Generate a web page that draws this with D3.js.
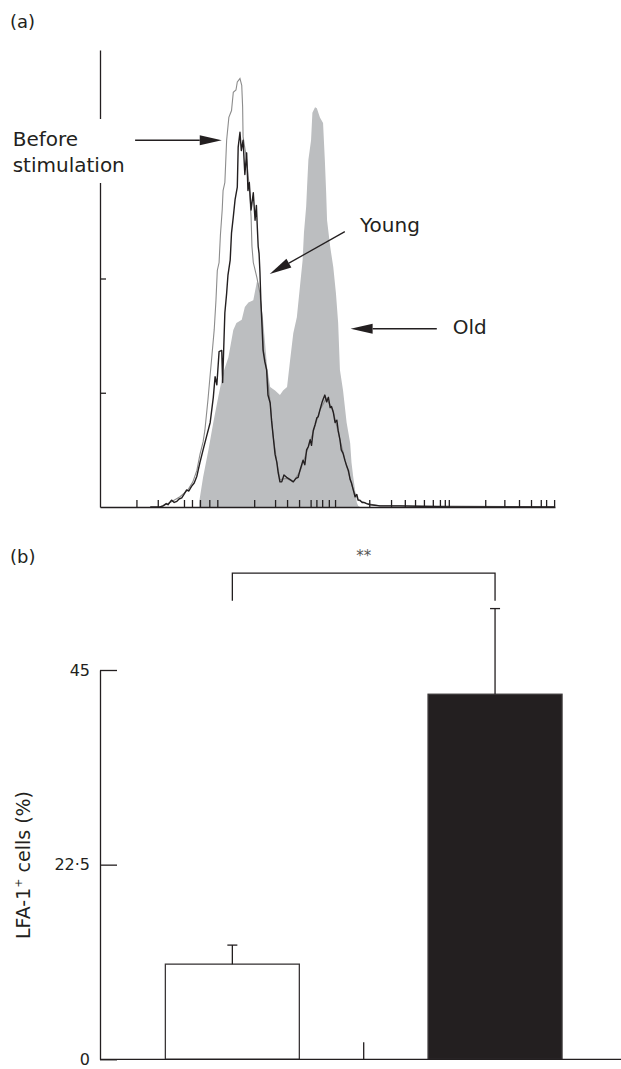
<!DOCTYPE html>
<html>
<head>
<meta charset="utf-8">
<style>
  body { margin: 0; background: #fff; }
  text { font-family: "DejaVu Sans", sans-serif; fill: #231f20; }
</style>
</head>
<body>
<script src="https://cdn.jsdelivr.net/npm/d3@7"></script>
<script>
// ---- panel (a): flow cytometry histograms (channel, count) ----
var xTicksA = [82, 130, 189, 207, 225, 246, 264, 347, 394, 421, 448, 474, 487, 500, 515, 529,
               606, 655, 686, 709, 729, 749, 765, 776, 785, 867, 910, 943, 970, 992, 1004, 1022];
var yTicksA = [100, 200, 300];

var beforeCurve = [[135,0],[158,4],[180,9],[198,15],[209,22],[218,32],[225,46],[232,57],[236,67],
  [243,94],[248,116],[252,133],[257,155],[261,181],[264,207],[268,214],[271,238],[275,260],[277,277],
  [281,284],[285,321],[290,341],[296,347],[300,363],[306,365],[309,372],[315,375],[319,369],[321,350],
  [322,324],[330,304],[336,280],[340,254],[342,228],[345,214],[353,201],[360,187],[365,164],[368,137],
  [375,120],[383,91],[390,61],[398,39],[405,24],[420,25],[435,22],[450,31],[465,48],[480,66],[495,85],
  [509,95],[524,85],[540,59],[555,36],[570,15],[581,6],[600,3],[630,1],[675,1],[1023,0]];

var youngCurve = [[113,0],[135,0],[142,1],[149,3],[153,2],[161,6],[167,4],[173,5],[178,7],[184,8],
  [189,11],[195,15],[200,14],[206,18],[212,21],[218,27],[225,39],[232,50],[240,62],[248,74],[255,96],
  [259,114],[263,107],[268,136],[274,137],[276,109],[281,170],[285,187],[288,203],[293,216],[296,240],
  [300,254],[304,269],[309,280],[311,315],[315,328],[318,312],[322,321],[326,291],[330,310],[333,277],
  [336,284],[340,260],[345,275],[349,251],[352,264],[354,245],[356,228],[358,222],[360,205],[362,181],
  [365,155],[367,137],[371,127],[375,120],[378,98],[383,91],[386,76],[390,61],[394,46],[398,39],
  [401,30],[405,22],[409,22],[414,28],[420,26],[428,24],[435,22],[441,25],[446,26],[450,32],[457,41],
  [461,37],[465,50],[469,53],[473,59],[476,54],[480,67],[484,72],[488,78],[491,79],[495,85],[500,92],
  [502,94],[506,98],[510,92],[514,96],[518,87],[521,88],[525,83],[529,74],[533,76],[536,67],[540,59],
  [543,50],[547,47],[551,41],[555,36],[559,32],[563,24],[566,21],[570,15],[574,9],[578,11],[581,6],
  [585,6],[590,4],[594,4],[600,3],[608,2],[630,1],[675,1],[788,0],[1023,0]];

var oldCurve = [[223,0],[223,4],[232,26],[244,50],[255,74],[266,96],[277,117],[289,131],[300,155],
  [307,161],[319,164],[326,175],[334,179],[345,181],[353,197],[357,196],[360,186],[367,164],[371,146],
  [376,123],[383,105],[394,102],[405,98],[412,102],[421,105],[428,129],[435,152],[443,166],[450,193],
  [456,216],[459,240],[464,263],[466,280],[469,304],[475,321],[478,345],[484,350],[488,349],[495,341],
  [502,336],[506,304],[509,275],[511,251],[518,228],[525,210],[531,187],[536,161],[540,120],[547,102],
  [555,74],[563,56],[566,39],[570,26],[574,15],[578,4],[581,1],[585,0]];

// ---- panel (b): LFA-1+ cells (%) ----
var groups = ["Young", "Old"];
var means = [11, 42.2];
var errors = [2.2, 9.9];
var yTicksB = [0, 22.5, 45];
var bracketTop = 56.2, bracketLeg = 53;

var width = 621, height = 1069;
var ink = '#231f20';
var svg = d3.select('body').append('svg')
    .attr('width', width).attr('height', height);

// ================= panel (a) =================
var xA = d3.scaleLinear().domain([0, 1024]).range([100, 555]);
var yA = d3.scaleLinear().domain([0, 400]).range([507, 50]);

svg.append('path')
    .datum(oldCurve)
    .attr('fill', '#bcbec0')
    .attr('d', d3.area()
        .x(function (d) { return xA(d[0]); })
        .y0(yA(0))
        .y1(function (d) { return yA(d[1]); }));

var line = d3.line()
    .x(function (d) { return xA(d[0]); })
    .y(function (d) { return yA(d[1]); });

svg.append('path').datum(beforeCurve)
    .attr('fill', 'none').attr('stroke', '#8c8c8c').attr('stroke-width', 1.1)
    .attr('d', line);
svg.append('path').datum(youngCurve)
    .attr('fill', 'none').attr('stroke', ink).attr('stroke-width', 1.4)
    .attr('stroke-linejoin', 'round')
    .attr('d', line);

var axA = svg.append('g').attr('transform', 'translate(0,' + yA(0) + ')')
    .call(d3.axisBottom(xA).tickValues(xTicksA).tickSizeInner(-7).tickSizeOuter(0).tickFormat(''));
var ayA = svg.append('g').attr('transform', 'translate(' + xA(0) + ',0)')
    .call(d3.axisLeft(yA).tickValues(yTicksA).tickSizeInner(-6).tickSizeOuter(0).tickFormat(''));
[axA, ayA].forEach(function (g) {
    g.selectAll('path, line').attr('stroke', ink).attr('stroke-width', 1.3);
});

// label box hides the axis behind "Before stimulation"
svg.append('rect').attr('x', 8).attr('y', 119).attr('width', 122).attr('height', 64).attr('fill', '#fff');

svg.append('text').attr('x', 10).attr('y', 28).style('font-size', '18px').text('(a)');
svg.append('text').attr('x', 12.7).attr('y', 145.5).style('font-size', '20px').text('Before');
svg.append('text').attr('x', 12.7).attr('y', 171.5).style('font-size', '20px').text('stimulation');
svg.append('text').attr('x', 360).attr('y', 232).style('font-size', '20px').text('Young');
svg.append('text').attr('x', 452.7).attr('y', 334.3).style('font-size', '20px').text('Old');

// arrows: tail and tip in data units
var arrows = [
    { from: [79, 321], to: [274, 321] },
    { from: [551, 241], to: [382, 204] },
    { from: [758, 156], to: [564, 156] }
];
arrows.forEach(function (a) {
    var x1 = xA(a.from[0]), y1 = yA(a.from[1]), x2 = xA(a.to[0]), y2 = yA(a.to[1]);
    var ang = Math.atan2(y2 - y1, x2 - x1), len = 22, hw = 5;
    var bx = x2 - len * Math.cos(ang), by = y2 - len * Math.sin(ang);
    svg.append('line').attr('x1', x1).attr('y1', y1).attr('x2', bx).attr('y2', by)
        .attr('stroke', ink).attr('stroke-width', 1.3);
    svg.append('polygon')
        .attr('points', [
            [x2, y2],
            [bx + hw * Math.sin(ang), by - hw * Math.cos(ang)],
            [bx - hw * Math.sin(ang), by + hw * Math.cos(ang)]
        ].map(function (p) { return p.join(','); }).join(' '))
        .attr('fill', ink);
});

// ================= panel (b) =================
var yB = d3.scaleLinear().domain([0, 45]).range([1059.3, 670]);
var xB = d3.scaleBand().domain(groups).range([101, 626.4]).paddingInner(0.49).paddingOuter(0.245);

var rows = groups.map(function (g, i) { return { group: g, mean: means[i], err: errors[i], i: i }; });

svg.selectAll('rect.bar').data(rows).enter().append('rect')
    .attr('class', 'bar')
    .attr('x', function (d) { return xB(d.group); })
    .attr('y', function (d) { return yB(d.mean); })
    .attr('width', xB.bandwidth())
    .attr('height', function (d) { return yB(0) - yB(d.mean); })
    .attr('fill', function (d) { return d.i === 0 ? '#fff' : ink; })
    .attr('stroke', '#3a3637').attr('stroke-width', 1.3);

rows.forEach(function (d) {
    var cx = xB(d.group) + xB.bandwidth() / 2;
    svg.append('line').attr('x1', cx).attr('x2', cx)
        .attr('y1', yB(d.mean)).attr('y2', yB(d.mean + d.err))
        .attr('stroke', ink).attr('stroke-width', 1.3);
    svg.append('line').attr('x1', cx - 5).attr('x2', cx + 5)
        .attr('y1', yB(d.mean + d.err)).attr('y2', yB(d.mean + d.err))
        .attr('stroke', ink).attr('stroke-width', 1.3);
});

var ayB = svg.append('g').attr('transform', 'translate(100,0)')
    .call(d3.axisLeft(yB).tickValues(yTicksB).tickSizeInner(-17).tickSizeOuter(0).tickPadding(10)
        .tickFormat(function (d) { return String(d).replace('.', '\u00b7'); }));
ayB.selectAll('path, line').attr('stroke', ink).attr('stroke-width', 1.3);
ayB.selectAll('text').style('font-size', '16px').style('font-family', '"DejaVu Sans", sans-serif').attr('fill', ink);

// x baseline and category separator tick
svg.append('line').attr('x1', 100).attr('x2', 621).attr('y1', yB(0)).attr('y2', yB(0))
    .attr('stroke', ink).attr('stroke-width', 1.3);
var sepX = (xB(groups[0]) + xB.bandwidth() + xB(groups[1])) / 2;
svg.append('line').attr('x1', sepX).attr('x2', sepX).attr('y1', yB(0)).attr('y2', yB(0) - 17)
    .attr('stroke', ink).attr('stroke-width', 1.3);

// significance bracket
var c0 = xB(groups[0]) + xB.bandwidth() / 2, c1 = xB(groups[1]) + xB.bandwidth() / 2;
svg.append('path')
    .attr('d', 'M' + c0 + ',' + yB(bracketLeg) + 'V' + yB(bracketTop) + 'H' + c1 + 'V' + yB(bracketLeg))
    .attr('fill', 'none').attr('stroke', ink).attr('stroke-width', 1.3);
svg.append('text').attr('x', (c0 + c1) / 2).attr('y', yB(bracketTop) - 12)
    .attr('text-anchor', 'middle').style('font-size', '15px').style('fill', '#555').text('**');

svg.append('text').attr('x', 10).attr('y', 563).style('font-size', '18px').text('(b)');

var ylab = svg.append('text')
    .attr('transform', 'translate(30,865) rotate(-90)')
    .attr('text-anchor', 'middle').style('font-size', '19px');
ylab.append('tspan').text('LFA-1');
ylab.append('tspan').attr('dy', -8).style('font-size', '11px').text('+');
ylab.append('tspan').attr('dy', 8).text(' cells (%)');
</script>
</body>
</html>
